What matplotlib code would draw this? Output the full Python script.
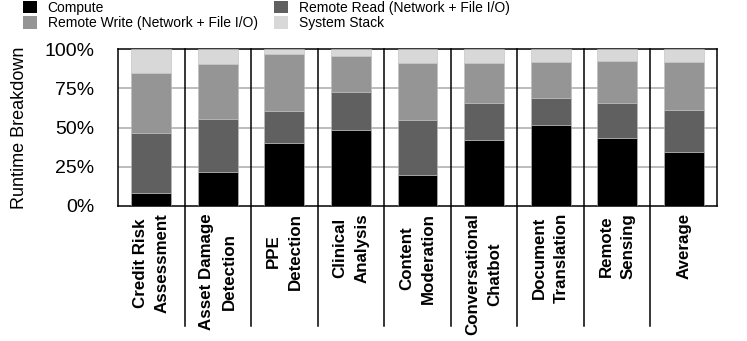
import numpy as np
import matplotlib
matplotlib.use("Agg")
import matplotlib.pyplot as plt
from matplotlib.patches import Patch
import matplotlib.transforms as mtransforms

plt.rcParams['font.family'] = ['Liberation Sans', 'DejaVu Sans']

categories = ["Credit Risk\nAssessment", "Asset Damage\nDetection", "PPE\nDetection",
              "Clinical\nAnalysis", "Content\nModeration", "Conversational\nChatbot",
              "Document\nTranslation", "Remote\nSensing", "Average"]
compute = [8.5, 21.8, 40.3, 48.4, 19.9, 42.0, 51.8, 43.3, 34.2]
remote_read = [38.2, 33.6, 20.4, 24.0, 34.9, 23.4, 17.2, 22.5, 27.1]
remote_write = [38.2, 35.0, 35.9, 22.9, 36.1, 25.5, 22.9, 26.6, 30.4]
system_stack = [15.1, 9.6, 3.4, 4.7, 9.1, 9.1, 8.1, 7.6, 8.3]

series_names = ["Compute", "Remote Read (Network + File I/O)",
                "Remote Write (Network + File I/O)", "System Stack"]
colors = ["#000000", "#606060", "#959595", "#d8d8d8"]
yticks = [0, 25, 50, 75, 100]
ytick_labels = ["0%", "25%", "50%", "75%", "100%"]

fig = plt.figure(figsize=(7.47, 3.41), dpi=100)
ax = fig.add_axes([118/747, 1-206/341, (717-118)/747, (206-49)/341])

x = np.arange(len(categories))
bottom = np.zeros(len(categories))
for vals, c in zip([compute, remote_read, remote_write, system_stack], colors):
    ax.bar(x, vals, width=0.6, bottom=bottom, color=c, edgecolor="#bdbdbd",
           linewidth=0.4, zorder=3)
    bottom += np.array(vals)

ax.set_xlim(-0.5, len(categories) - 0.5)
ax.set_ylim(0, 100)
ax.set_yticks(yticks)
ax.set_yticklabels(ytick_labels, fontsize=14)
ax.tick_params(axis='y', length=0, pad=17)
ax.set_xticks(x)
ax.set_xticklabels(categories, rotation=90, fontsize=12.2, fontweight='bold',
                   va='top', ha='center', multialignment='center', linespacing=1.6)
ax.tick_params(axis='x', length=0, pad=5)
ax.set_ylabel("Runtime Breakdown", fontsize=13, labelpad=12)

for yv in [25, 50, 75]:
    ax.axhline(yv, color="#b0b0b0", lw=1.2, zorder=1)

for s in ax.spines.values():
    s.set_linewidth(1.1)
    s.set_color("black")

trans = mtransforms.blended_transform_factory(ax.transData, ax.transAxes)
for i in range(len(categories) - 1):
    ax.plot([i + 0.5, i + 0.5], [1, -(326-206)/157], transform=trans,
            color="black", lw=1.1, clip_on=False, zorder=4)

handles = [Patch(facecolor=c, edgecolor='none') for c in colors]
order = [0, 2, 1, 3]
fig.legend([handles[i] for i in order], [series_names[i] for i in order],
           ncol=2, loc='upper left', bbox_to_anchor=(22/747, 1.0), frameon=False,
           fontsize=10, handlelength=1.0, handleheight=1.0, handletextpad=0.8,
           columnspacing=1.2, labelspacing=0.12, borderaxespad=0, borderpad=0.05)

fig.savefig("out.png", dpi=100)
